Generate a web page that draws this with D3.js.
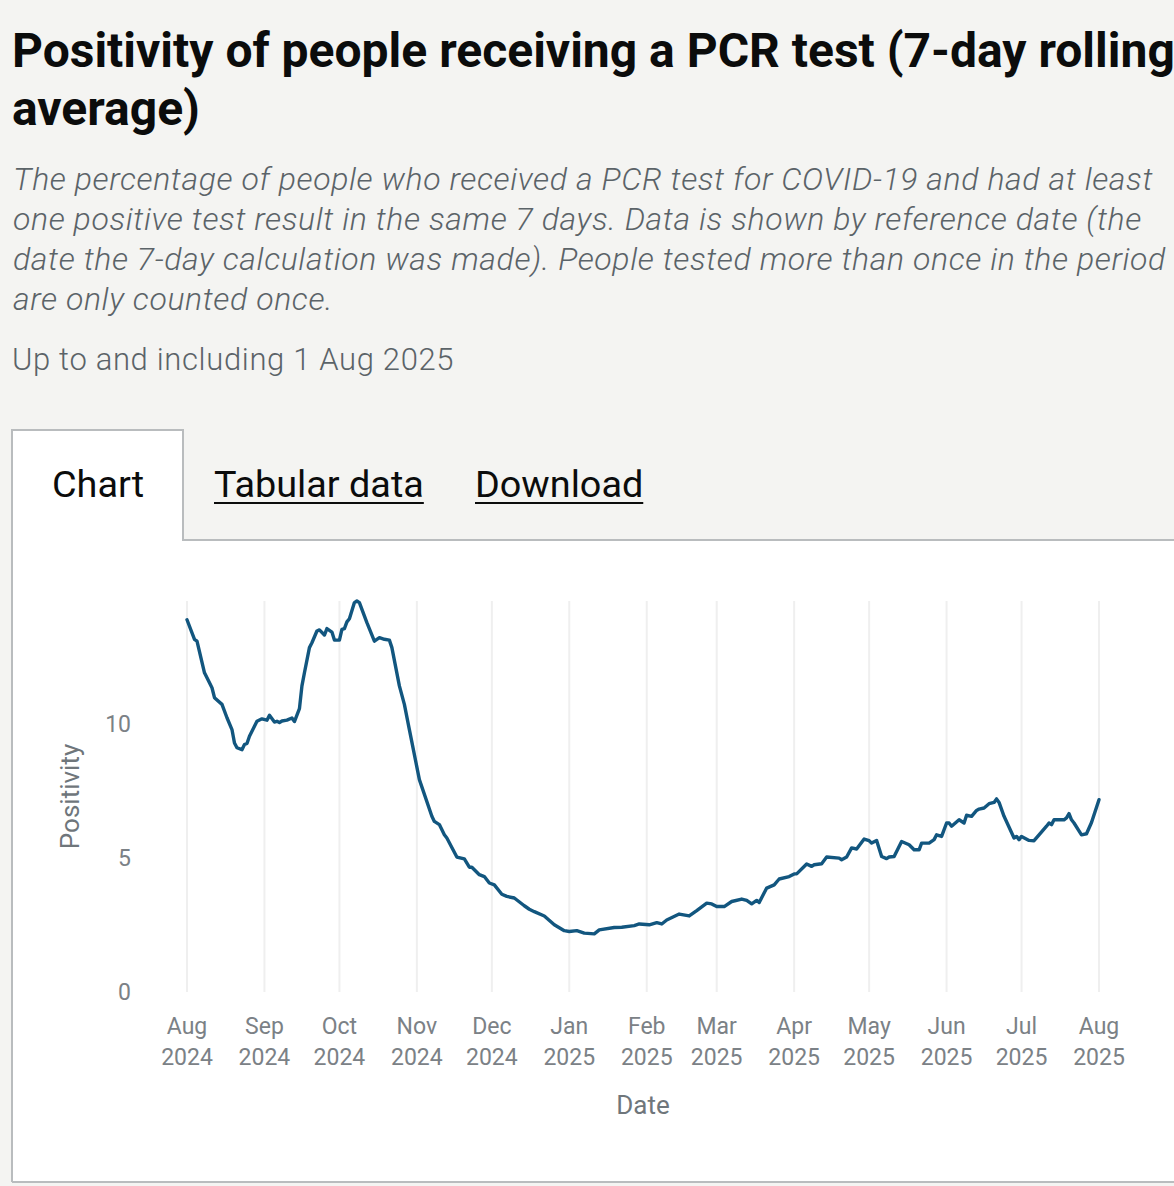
<!DOCTYPE html>
<html><head><meta charset="utf-8">
<script src="https://cdn.jsdelivr.net/npm/d3@7"></script>
<style>
html,body{margin:0;padding:0;background:#f4f4f2;overflow:hidden;width:1174px;height:1186px}
svg{display:block;font-family:Roboto,"Noto Sans",sans-serif}
</style></head><body><svg id="c" width="1174" height="1186"></svg>
<script>
const titleLines = ["Positivity of people receiving a PCR test (7-day rolling", "average)"];
const subtitleLines = [
  "The percentage of people who received a PCR test for COVID-19 and had at least",
  "one positive test result in the same 7 days. Data is shown by reference date (the",
  "date the 7-day calculation was made). People tested more than once in the period",
  "are only counted once."
];
const dateNote = "Up to and including 1 Aug 2025";
const tabs = ["Chart", "Tabular data", "Download"];
const xAxisTitle = "Date";
const yAxisTitle = "Positivity";
const yTicks = [0, 5, 10];
const monthTicks = ["2024-08-01","2024-09-01","2024-10-01","2024-11-01","2024-12-01","2025-01-01","2025-02-01","2025-03-01","2025-04-01","2025-05-01","2025-06-01","2025-07-01","2025-08-01"];

const dates = ["2024-08-01","2024-08-04","2024-08-05","2024-08-08","2024-08-09","2024-08-11","2024-08-12","2024-08-15","2024-08-17","2024-08-19","2024-08-20","2024-08-21","2024-08-23","2024-08-24","2024-08-25","2024-08-26","2024-08-28","2024-08-29","2024-08-31","2024-09-02","2024-09-03","2024-09-05","2024-09-06","2024-09-07","2024-09-08","2024-09-10","2024-09-12","2024-09-13","2024-09-15","2024-09-16","2024-09-17","2024-09-19","2024-09-20","2024-09-22","2024-09-23","2024-09-25","2024-09-26","2024-09-28","2024-09-29","2024-10-01","2024-10-02","2024-10-03","2024-10-04","2024-10-05","2024-10-07","2024-10-08","2024-10-09","2024-10-12","2024-10-15","2024-10-17","2024-10-19","2024-10-21","2024-10-22","2024-10-25","2024-10-27","2024-10-29","2024-11-02","2024-11-07","2024-11-08","2024-11-10","2024-11-12","2024-11-13","2024-11-17","2024-11-20","2024-11-22","2024-11-23","2024-11-26","2024-11-28","2024-11-30","2024-12-02","2024-12-05","2024-12-07","2024-12-10","2024-12-14","2024-12-16","2024-12-18","2024-12-22","2024-12-26","2024-12-30","2025-01-01","2025-01-04","2025-01-07","2025-01-11","2025-01-13","2025-01-19","2025-01-22","2025-01-27","2025-01-29","2025-02-02","2025-02-05","2025-02-07","2025-02-09","2025-02-14","2025-02-18","2025-02-21","2025-02-25","2025-02-27","2025-03-01","2025-03-04","2025-03-07","2025-03-11","2025-03-13","2025-03-15","2025-03-17","2025-03-18","2025-03-21","2025-03-24","2025-03-26","2025-03-30","2025-04-01","2025-04-02","2025-04-06","2025-04-08","2025-04-09","2025-04-12","2025-04-14","2025-04-19","2025-04-20","2025-04-22","2025-04-24","2025-04-26","2025-04-29","2025-05-01","2025-05-02","2025-05-04","2025-05-06","2025-05-08","2025-05-09","2025-05-11","2025-05-14","2025-05-17","2025-05-19","2025-05-21","2025-05-22","2025-05-25","2025-05-27","2025-05-28","2025-05-30","2025-06-01","2025-06-02","2025-06-03","2025-06-06","2025-06-08","2025-06-09","2025-06-11","2025-06-13","2025-06-14","2025-06-16","2025-06-18","2025-06-20","2025-06-21","2025-06-22","2025-06-24","2025-06-28","2025-06-29","2025-06-30","2025-07-01","2025-07-04","2025-07-06","2025-07-08","2025-07-11","2025-07-12","2025-07-13","2025-07-14","2025-07-18","2025-07-19","2025-07-20","2025-07-21","2025-07-22","2025-07-25","2025-07-27","2025-07-29","2025-08-01"];
const positivity = [13.9,13.17,13.1,11.92,11.73,11.36,10.99,10.74,10.24,9.8,9.3,9.12,9.05,9.24,9.28,9.55,9.92,10.11,10.2,10.15,10.33,10.08,10.11,10.06,10.12,10.15,10.23,10.1,10.58,11.43,11.92,12.86,13.04,13.48,13.52,13.33,13.57,13.44,13.14,13.14,13.54,13.57,13.82,13.94,14.54,14.6,14.54,13.79,13.1,13.23,13.17,13.14,12.86,11.43,10.74,9.8,7.93,6.56,6.37,6.25,5.87,5.75,5.04,4.97,4.66,4.66,4.38,4.31,4.07,4.0,3.65,3.57,3.51,3.22,3.09,3.0,2.84,2.51,2.29,2.26,2.29,2.2,2.17,2.32,2.41,2.42,2.48,2.54,2.51,2.59,2.54,2.69,2.91,2.84,3.04,3.32,3.29,3.19,3.19,3.38,3.47,3.42,3.29,3.42,3.34,3.88,4.0,4.22,4.31,4.41,4.41,4.78,4.69,4.75,4.79,5.04,5.0,4.94,5.04,5.38,5.34,5.71,5.65,5.56,5.66,5.06,4.98,5.04,5.06,5.62,5.5,5.31,5.31,5.56,5.56,5.69,5.87,5.81,6.31,6.31,6.19,6.43,6.31,6.6,6.56,6.78,6.83,6.87,7.03,7.08,7.21,7.08,6.56,5.75,5.81,5.69,5.81,5.66,5.65,5.87,6.19,6.31,6.25,6.43,6.43,6.5,6.66,6.43,6.31,5.87,5.91,6.33,7.18];

const parse = d3.utcParse("%Y-%m-%d");
const data = dates.map((d, i) => ({date: parse(d), value: positivity[i]}));
const ticks = monthTicks.map(parse);

const svg = d3.select("#c");
const W = 1174, H = 1186;
svg.append("rect").attr("width", W).attr("height", H).attr("fill", "#f4f4f2");

// Title
svg.append("g").selectAll("text").data(titleLines).join("text")
  .attr("x", 12).attr("y", (d, i) => 67 + i * 58)
  .attr("font-size", 48).attr("font-weight", 700).attr("fill", "#0b0c0c").text(d => d);

// Subtitle
svg.append("g").selectAll("text").data(subtitleLines).join("text")
  .attr("x", 13).attr("y", (d, i) => 190 + i * 40)
  .attr("font-size", 32).attr("font-weight", 300).attr("font-style", "italic")
  .attr("letter-spacing", 0.6).attr("fill", "#5b6368").text(d => d);

svg.append("text").attr("x", 12).attr("y", 370).attr("font-size", 31).attr("font-weight", 300)
  .attr("letter-spacing", 0.65).attr("fill", "#5b6368").text(dateNote);

// Tabs & panel
const border = "#b9bcbe";
svg.append("rect").attr("x", 12).attr("y", 430).attr("width", 171).attr("height", 112).attr("fill", "#fff");
svg.append("rect").attr("x", 12).attr("y", 540).attr("width", W).attr("height", 642).attr("fill", "#fff");
svg.append("path").attr("d", `M12,1182V430H183V540H${W + 10}`).attr("fill", "none").attr("stroke", border).attr("stroke-width", 2);
svg.append("path").attr("d", `M12,1182H${W + 10}`).attr("fill", "none").attr("stroke", border).attr("stroke-width", 2);

const tabX = [52, 214, 475];
tabs.forEach((t, i) => {
  const tx = svg.append("text").attr("x", tabX[i]).attr("y", 497).attr("font-size", 37.8)
    .attr("fill", "#0b0c0c").text(t);
  if (i > 0) {
    const w = tx.node().getComputedTextLength();
    svg.append("rect").attr("x", tabX[i]).attr("y", 502).attr("width", w).attr("height", 2).attr("fill", "#0b0c0c");
  }
});

// Chart
const x = d3.scaleUtc().domain([ticks[0], ticks[ticks.length - 1]]).range([187, 1099]);
const y = d3.scaleLinear().domain([0, d3.max(positivity)]).range([992, 601]);

const grid = svg.append("g");
grid.selectAll("line").data(ticks).join("line")
  .attr("x1", d => x(d)).attr("x2", d => x(d))
  .attr("y1", y.range()[1]).attr("y2", y.range()[0])
  .attr("stroke", "#efefef").attr("stroke-width", 2);

const tickColor = "#7b8186";
const xg = svg.append("g");
const fm = d3.utcFormat("%b"), fy = d3.utcFormat("%Y");
xg.selectAll("text.m").data(ticks).join("text").attr("class", "m")
  .attr("x", d => x(d)).attr("y", 1034).attr("text-anchor", "middle")
  .attr("font-size", 23).attr("fill", tickColor).text(d => fm(d));
xg.selectAll("text.y").data(ticks).join("text").attr("class", "y")
  .attr("x", d => x(d)).attr("y", 1065).attr("text-anchor", "middle")
  .attr("font-size", 23).attr("fill", tickColor).text(d => fy(d));

svg.append("g").selectAll("text").data(yTicks).join("text")
  .attr("x", 131).attr("y", d => y(d)).attr("dy", "0.35em").attr("text-anchor", "end")
  .attr("font-size", 23).attr("fill", tickColor).text(d => d);

svg.append("text").attr("x", x.range()[0] + (x.range()[1] - x.range()[0]) / 2).attr("y", 1114)
  .attr("text-anchor", "middle").attr("font-size", 26).attr("fill", "#6f767b").text(xAxisTitle);
svg.append("text").attr("transform", `translate(79,${(y.range()[0] + y.range()[1]) / 2}) rotate(-90)`)
  .attr("text-anchor", "middle").attr("font-size", 26).attr("fill", "#6f767b").text(yAxisTitle);

const line = d3.line().x(d => x(d.date)).y(d => y(d.value));
svg.append("path").datum(data).attr("d", line).attr("fill", "none")
  .attr("stroke", "#12567f").attr("stroke-width", 3.4).attr("stroke-linejoin", "round").attr("stroke-linecap", "round");
</script></body></html>
